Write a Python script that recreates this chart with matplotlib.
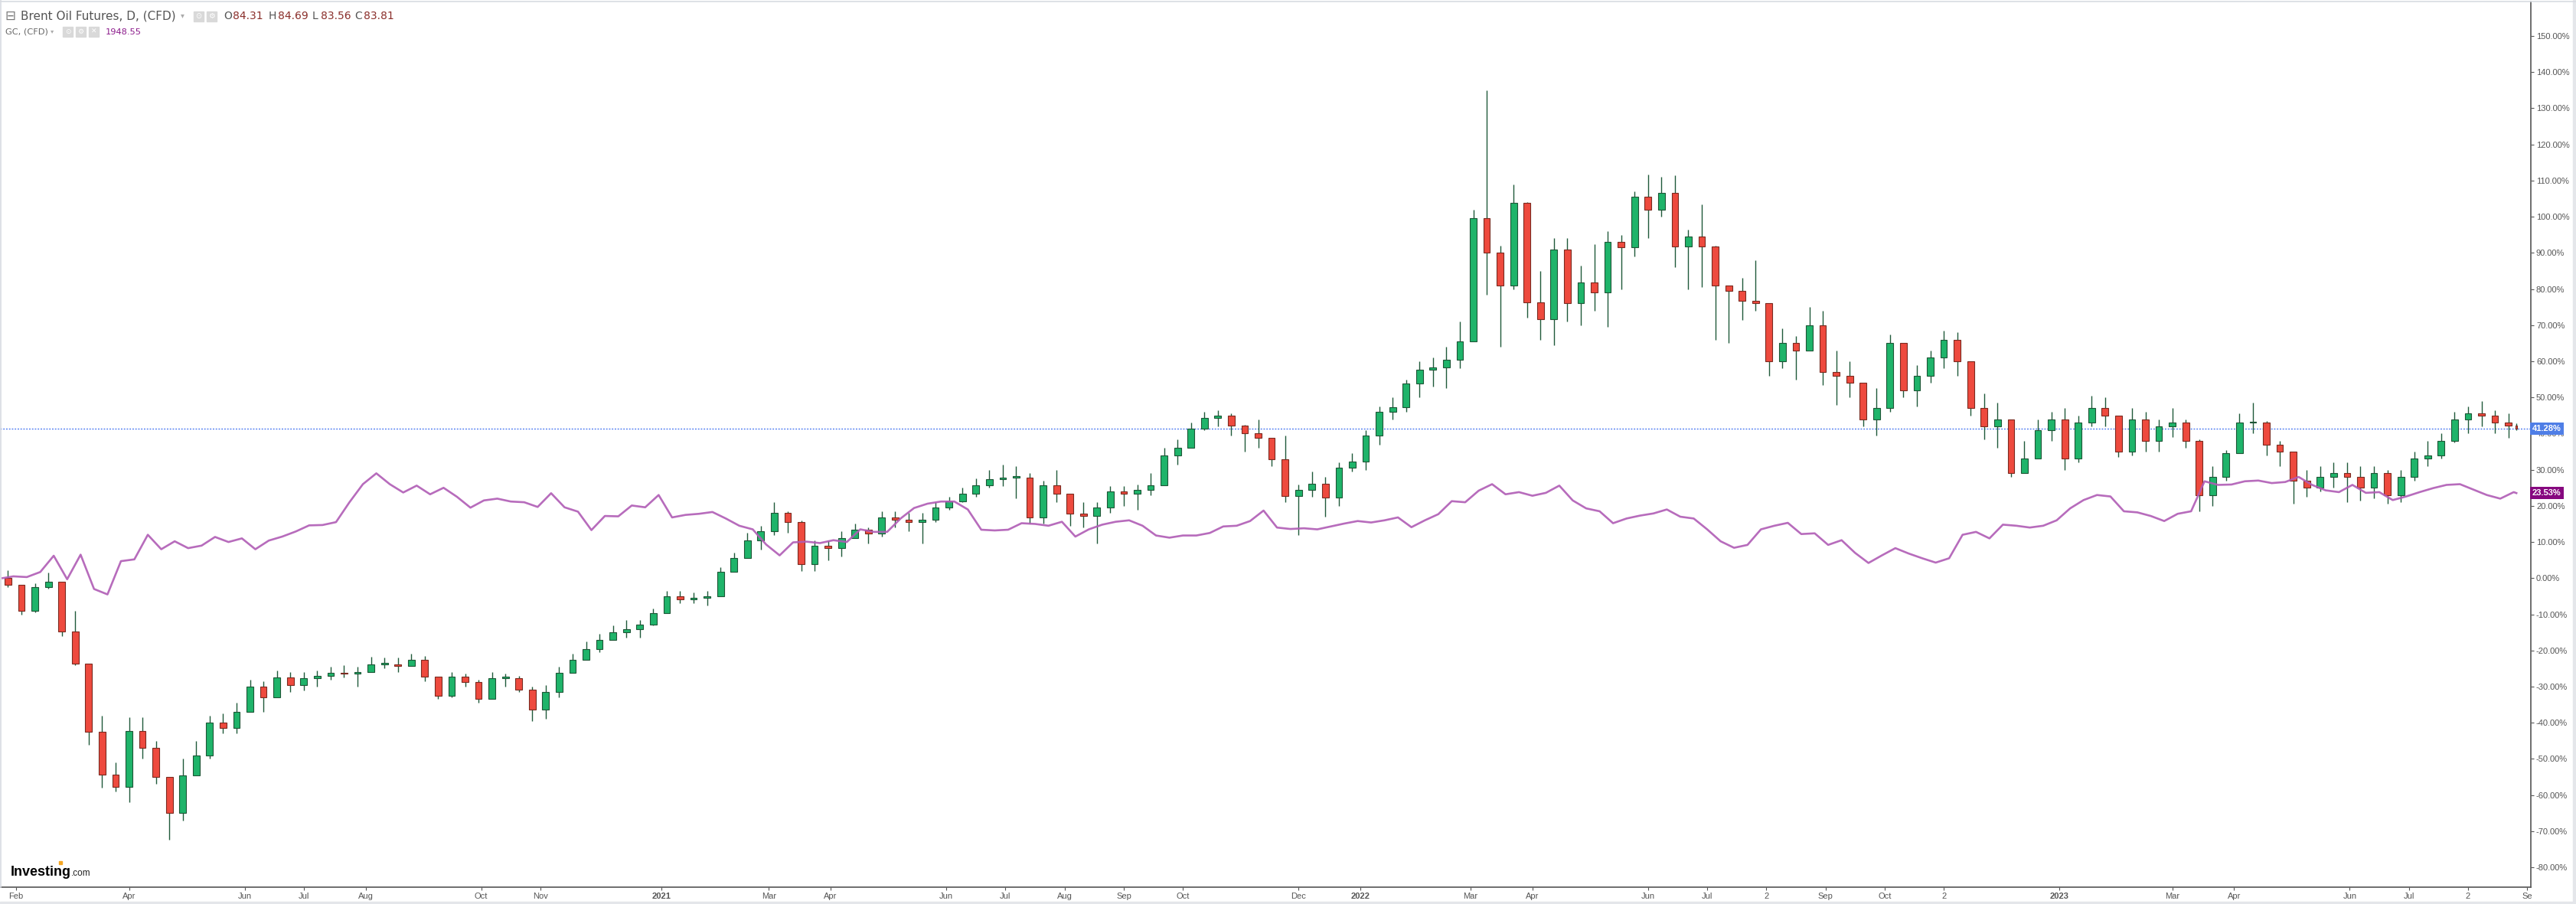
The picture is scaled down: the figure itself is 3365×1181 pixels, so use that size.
import numpy as np
import pandas as pd
import matplotlib
matplotlib.use('Agg')
import matplotlib.pyplot as plt
from matplotlib.patches import Rectangle
from matplotlib.transforms import blended_transform_factory

W, H = 3365, 1181

# weekly candles, % change vs first close (Brent CFD), weeks start Monday 2020-01-27
first_week = '2020-01-27'
last_day = '2023-08-28'

oil_close = [
    -1.8, -9, -2.5, -1, -14.8, -23.6, -42.6, -54.3, -57.8, -42.3,
    -47, -55, -65, -54.5, -49, -40, -41.5, -37, -30, -33,
    -27.5, -29.5, -27.6, -27, -26.3, -26.5, -25.9, -23.8, -23.8, -24.2,
    -22.6, -27.2, -32.6, -27.2, -28.8, -33.5, -27.6, -27.6, -30.9, -36.4,
    -31.4, -26.3, -22.6, -19.6, -17.1, -15, -14.2, -12.9, -9.6, -5,
    -5.8, -5.5, -5, 1.7, 5.5, 10.5, 13, 18, 15.5, 3.8,
    8.9, 8.4, 11, 13.4, 12.3, 16.7, 16.2, 15.6, 16.2, 19.5,
    21.2, 23.4, 25.6, 27.3, 27.8, 27.8, 16.7, 25.6, 23.4, 17.8,
    17.3, 19.5, 23.9, 23.4, 24.5, 25.6, 33.9, 36.1, 41.3, 44.4,
    45, 42.2, 40, 38.9, 32.8, 22.8, 24.5, 26.2, 22.3, 30.6,
    32.2, 39.4, 46.1, 47.2, 53.8, 57.7, 58.3, 60.5, 65.5, 99.6,
    90, 81, 103.9, 76.3, 71.7, 91, 76, 81.8, 79, 93.1,
    91.5, 105.5, 101.9, 106.5, 91.8, 94.5, 91.7, 80.9, 79.5, 76.7,
    76, 60, 65, 63, 70, 57, 56, 54, 44, 47,
    65, 52, 56, 61, 66, 60, 47, 42, 44, 29,
    33, 41, 44, 33, 43, 47, 45, 35, 44, 38,
    42, 43, 38, 23, 28, 34.5, 43, 43, 37, 35,
    27, 25, 28, 29, 28, 25, 29, 23, 28, 33,
    34, 38, 44, 45.5, 45, 43, 42.3, 41.28,
]
oil_high = [
    2.2, -3.5, -1.5, 1.5, -2, -9, -32.8, -38, -51, -38.4,
    -38.4, -45, -55, -50, -45, -38, -37.5, -34.5, -28, -28.5,
    -25.5, -26, -26, -25.5, -24.5, -24, -24.5, -21.8, -22, -22,
    -21, -21.5, -28, -26, -26.5, -28, -26, -26.5, -27, -30,
    -29.5, -24.5, -21, -17.5, -15.5, -13, -11.5, -11.5, -8.5, -3.5,
    -3.5, -4, -3.5, 3, 7, 12.5, 14.5, 21, 18.5, 16,
    10.5, 10.5, 13, 15, 14, 18.5, 18.5, 18, 18, 21,
    22.5, 25, 27.5, 30, 31.5, 31, 29, 27, 30, 23,
    21, 21, 25.5, 25.5, 26, 29, 36, 38.5, 43, 46,
    46.5, 45.5, 42.5, 44, 38, 39.5, 26, 29.5, 28, 32,
    34.5, 41, 47.5, 50, 55, 60, 61, 64, 71, 102,
    135, 92, 109, 104, 85, 94, 94, 86.5, 92.5, 96,
    95, 107, 111.6, 111, 111.4, 96.5, 103.5, 92, 81, 83,
    88, 73, 69, 67, 75, 74, 63, 60, 52, 52.5,
    67.5, 63.5, 59, 63, 68.5, 68, 60, 51, 48.5, 41,
    38, 44, 46, 47, 45, 50.5, 50, 45, 47, 46,
    44, 47, 44, 38.5, 31, 35.5, 45.5, 48.5, 43.5, 38,
    35, 30, 31, 32, 32, 31, 31, 30, 30, 35,
    38, 40, 46, 47.5, 49, 46.5, 45.5, 42.8,
]
oil_low = [
    -2.5, -10, -9.5, -3, -16, -24, -46, -58, -59, -62,
    -50, -57, -72.3, -67, -53, -50, -43, -43, -37, -37,
    -32, -31.5, -31, -30, -28, -27.5, -30, -26, -25, -26,
    -24, -28.5, -33.5, -33, -30, -34.5, -31.5, -30, -31.5, -39.5,
    -39, -33, -26, -22, -20.5, -17, -16.5, -16.5, -13, -9.5,
    -7, -7, -7.5, -4, 2, 5.5, 8, 12, 12.5, 2,
    2, 5, 6, 11, 9.5, 11.5, 14, 13, 9.5, 15.5,
    19, 21, 22.5, 25, 25.5, 22, 15, 15, 21, 14.5,
    14, 9.5, 18, 20, 19, 23, 26, 31.5, 36, 41,
    42, 39.5, 35, 36, 31, 21, 12, 22.5, 17, 20,
    29.5, 30, 37, 44, 46, 50, 53, 52.5, 58, 66,
    78.5, 64, 80, 72, 66, 64.5, 71, 70, 74, 69.5,
    80, 89, 94, 100, 86, 80, 80.5, 66, 65, 71.5,
    74, 56, 58, 55, 64, 53.5, 48, 50, 42, 39.5,
    46, 50, 47.5, 54, 58, 56, 45, 38.5, 36, 28,
    29, 33, 38, 30, 32, 42, 42, 33.5, 34, 35,
    35, 39, 36, 18.5, 20, 27, 34.5, 40, 34, 31,
    20.5, 22.5, 24, 25, 21, 21.5, 22, 20.5, 21, 27,
    31, 33, 37.5, 40, 42, 40, 38.9, 41,
]

# gold (GC) % change: start day, then each week's last day
gold_pct = [
    0.0,
    0.5, 0.3, 1.7, 6.2, -0.3, 6.5, -3, -4.5, 4.7, 5.2,
    12, 8, 10.2, 8.3, 9, 11.4, 10, 11, 8, 10.4,
    11.5, 12.9, 14.6, 14.7, 15.5, 21, 26, 29, 26, 23.7,
    25.6, 23.2, 25, 22.5, 19.5, 21.5, 22, 21.2, 21, 19.7,
    23.5, 19.6, 18.4, 13.3, 17.2, 17.1, 20.1, 19.6, 23, 16.8,
    17.5, 17.8, 18.3, 16.5, 14.5, 13.5, 9.3, 6.3, 9.9, 10.1,
    9.7, 10.5, 10, 13.5, 12.8, 12.8, 16.5, 19.4, 20.6, 21.2,
    21.2, 19, 13.4, 13.2, 13.4, 15.2, 15, 14.5, 15.6, 11.5,
    13.5, 14.8, 15.6, 16, 14.5, 11.8, 11.2, 11.8, 11.8, 12.5,
    14.3, 14.5, 15.8, 18.7, 14, 13.6, 13.8, 13.5, 14.3, 15.1,
    15.8, 15.4, 16, 16.8, 14.1, 16, 17.7, 21.3, 21, 24.2,
    26, 23.2, 23.8, 22.8, 23.6, 25.6, 21.5, 19.3, 18.5, 15.2,
    16.5, 17.3, 17.9, 19, 17, 16.5, 13.5, 10.2, 8.4, 9.2,
    13.5, 14.5, 15.3, 12.2, 12.4, 9.2, 10.5, 7, 4.2, 6.3,
    8.3, 6.8, 5.5, 4.3, 5.5, 12, 12.8, 11, 14.8, 14.5,
    14, 14.5, 16, 19.3, 21.6, 23, 22.6, 18.5, 18.2, 17.2,
    15.8, 17.8, 18.5, 26.8, 25.8, 25.9, 26.8, 27, 26.3, 26.6,
    28, 25.8, 24.3, 23.8, 25.8, 23.6, 23.8, 21.6, 22.6, 23.8,
    24.9, 25.8, 26, 24.5, 23, 22, 23.8, 23.53,
]
last_oil = 41.28
last_gold = 23.53

tick_dates = ['2020-02-03', '2020-04-01', '2020-06-01', '2020-07-01', '2020-08-03',
              '2020-10-01', '2020-11-02', '2021-01-04', '2021-03-01', '2021-04-01',
              '2021-06-01', '2021-07-01', '2021-08-02', '2021-09-01', '2021-10-01',
              '2021-12-01', '2022-01-03', '2022-03-01', '2022-04-01', '2022-06-01',
              '2022-07-01', '2022-08-02', '2022-09-01', '2022-10-03', '2022-11-02',
              '2023-01-02', '2023-03-01', '2023-04-03', '2023-06-01', '2023-07-03',
              '2023-08-02', '2023-09-01']
tick_labels = ['Feb', 'Apr', 'Jun', 'Jul', 'Aug', 'Oct', 'Nov', '2021', 'Mar', 'Apr',
               'Jun', 'Jul', 'Aug', 'Sep', 'Oct', 'Dec', '2022', 'Mar', 'Apr', 'Jun',
               'Jul', '2', 'Sep', 'Oct', '2', '2023', 'Mar', 'Apr', 'Jun', 'Jul',
               '2', 'Se']

up_fill, up_edge = '#1fb46a', '#1d5636'
dn_fill, dn_edge = '#ee4a3e', '#7a2a20'
wick_col = '#1f5a3a'
gold_col = '#b05cb5'
axis_col = '#555555'

# trading-day index, 0 = 2020-02-03
bdays = pd.bdate_range('2020-01-27', '2023-09-29')
def idx(d):
    return int(bdays.get_indexer([pd.Timestamp(d)])[0]) - 5

def px(x):
    return x / W

def py(y):
    return 1 - y / H

fig = plt.figure(figsize=(W / 100, H / 100), dpi=100)
ax = fig.add_axes([0, py(1159), 3306 / W, (1159 - 2) / H])

mondays = pd.date_range(first_week, periods=len(oil_close), freq='7D')
last_i = idx(last_day)
opens = [0.0] + oil_close[:-1]
xs, widths, bottoms, heights, fills, edges = [], [], [], [], [], []
gx = [idx(first_week)]
for i, m in enumerate(mondays):
    mi = idx(m)
    n = min(5, last_i - mi + 1)
    x = mi + (n - 1) / 2
    o, c = opens[i], oil_close[i]
    hi = max(oil_high[i], o, c)
    lo = min(oil_low[i], o, c)
    ax.vlines(x, lo, hi, color=wick_col, lw=1.0, zorder=2)
    xs.append(x)
    widths.append(0.5 * n if n > 1 else 0.7)
    bottoms.append(min(o, c))
    heights.append(max(abs(c - o), 0.35))
    up = c >= o
    fills.append(up_fill if up else dn_fill)
    edges.append(up_edge if up else dn_edge)
    gx.append(mi + n - 1)

ax.bar(xs, heights, bottom=bottoms, width=widths, color=fills, edgecolor=edges,
       linewidth=0.8, zorder=3)
ax.plot(gx, gold_pct, color=gold_col, lw=1.9, alpha=0.9, zorder=4,
        solid_joinstyle='round')
ax.axhline(last_oil, color='#3a6cf0', lw=0.9, ls=(0, (1.5, 1.5)), zorder=1)

ax.set_xlim(-21 / 3.512, (3306 - 21) / 3.512)
ax.set_ylim((755.3 - 1159) / 4.722, (755.3 - 2) / 4.722)

for s in ['left', 'top']:
    ax.spines[s].set_visible(False)
for s in ['right', 'bottom']:
    ax.spines[s].set_color(axis_col)
    ax.spines[s].set_linewidth(1.2)

ax.yaxis.tick_right()
yt = list(range(-80, 151, 10))
ax.set_yticks(yt)
ax.set_yticklabels([f'{v:.2f}%' for v in yt], family=['Liberation Sans', 'DejaVu Sans'])
ax.tick_params(axis='y', direction='out', length=3, width=0.8, colors=axis_col,
               labelsize=8, pad=2)

ax.set_xticks([idx(d) for d in tick_dates])
ax.set_xticklabels(tick_labels, family=['Liberation Sans Narrow', 'Liberation Sans', 'DejaVu Sans'])
for lab in ax.get_xticklabels():
    if lab.get_text() in ('2021', '2022', '2023'):
        lab.set_fontweight('bold')
ax.tick_params(axis='x', direction='out', length=3, width=0.8, colors=axis_col,
               labelsize=8, pad=2)

# last-value boxes on the price scale
tr = blended_transform_factory(ax.transAxes, ax.transData)
ax.text(1.0006, last_oil, f'{last_oil:.2f}%', transform=tr, color='white', fontsize=8,
        fontweight='bold', va='center', ha='left', family=['Liberation Sans', 'DejaVu Sans'],
        bbox=dict(boxstyle='square,pad=0.28', fc='#4f7ee6', ec='none'), zorder=6, clip_on=False)
ax.text(1.0006, last_gold, f'{last_gold:.2f}%', transform=tr, color='white', fontsize=8,
        fontweight='bold', va='center', ha='left', family=['Liberation Sans', 'DejaVu Sans'],
        bbox=dict(boxstyle='square,pad=0.28', fc='#86087f', ec='none'), zorder=6, clip_on=False)

# frame lines
fig.add_artist(plt.Line2D([0, 1], [py(1.5), py(1.5)], color='#d8dbe2', lw=1.2))
fig.add_artist(plt.Line2D([px(1), px(1)], [py(1159), py(0)], color='#d8dbe2', lw=1.2))
fig.add_artist(Rectangle((0, 0), 1, 3.5 / H, color='#e4e6ea', transform=fig.transFigure))
fig.add_artist(Rectangle((px(3361), 0), 4 / W, 1, color='#e4e6ea', transform=fig.transFigure))

# legend header
fam = ['DejaVu Sans']
fig.text(px(6), py(21), '⊟', fontsize=12, color='#777777', va='center', family=fam)
fig.text(px(27), py(21), 'Brent Oil Futures, D, (CFD)', fontsize=11, color='#555555',
         va='center', family=fam)
fig.text(px(236), py(20), '▾', fontsize=7, color='#aaaaaa', va='center', family=fam)
for x0 in (253, 270):
    fig.add_artist(Rectangle((px(x0), py(28)), 13 / W, 13 / H, color='#d9d9d9',
                             transform=fig.transFigure))
fig.text(px(259.5), py(21.5), '⊙', fontsize=7, color='white', va='center', ha='center', family=fam)
fig.text(px(276.5), py(21.5), '⚙', fontsize=7, color='white', va='center', ha='center', family=fam)
for lab, val, x0, x1 in [('O', '84.31', 292, 304), ('H', '84.69', 351, 363),
                         ('L', '83.56', 408, 419), ('C', '83.81', 463, 475)]:
    fig.text(px(x0), py(21), lab, fontsize=10, color='#555555', va='center', family=fam)
    fig.text(px(x1), py(21), val, fontsize=10, color='#8a2e2a', va='center', family=fam)

fig.text(px(7), py(42), 'GC, (CFD)', fontsize=8.2, color='#666666', va='center', family=fam)
fig.text(px(66), py(41), '▾', fontsize=6, color='#aaaaaa', va='center', family=fam)
for x0, g in ((82, '⊙'), (99, '⚙'), (116, '✕')):
    fig.add_artist(Rectangle((px(x0), py(48)), 13 / W, 13 / H, color='#d9d9d9',
                             transform=fig.transFigure))
    fig.text(px(x0 + 6.5), py(41.5), g, fontsize=6.5, color='white', va='center',
             ha='center', family=fam)
fig.text(px(138), py(42), '1948.55', fontsize=8.2, color='#8b1a8b', va='center', family=fam)

# watermark logo
fig.text(px(14), py(1139), 'Investing', fontsize=13, fontweight='bold', color='black',
         va='center', family=['Liberation Sans Narrow', 'Liberation Sans', 'DejaVu Sans'])
fig.text(px(93), py(1141), '.com', fontsize=8.5, color='#222222', va='center',
         family=['Liberation Sans Narrow', 'Liberation Sans', 'DejaVu Sans'])
fig.add_artist(Rectangle((px(77), py(1129)), 4 / W, 4 / H, color='#f5a623',
                         transform=fig.transFigure))

fig.savefig('out.png', dpi=100)
